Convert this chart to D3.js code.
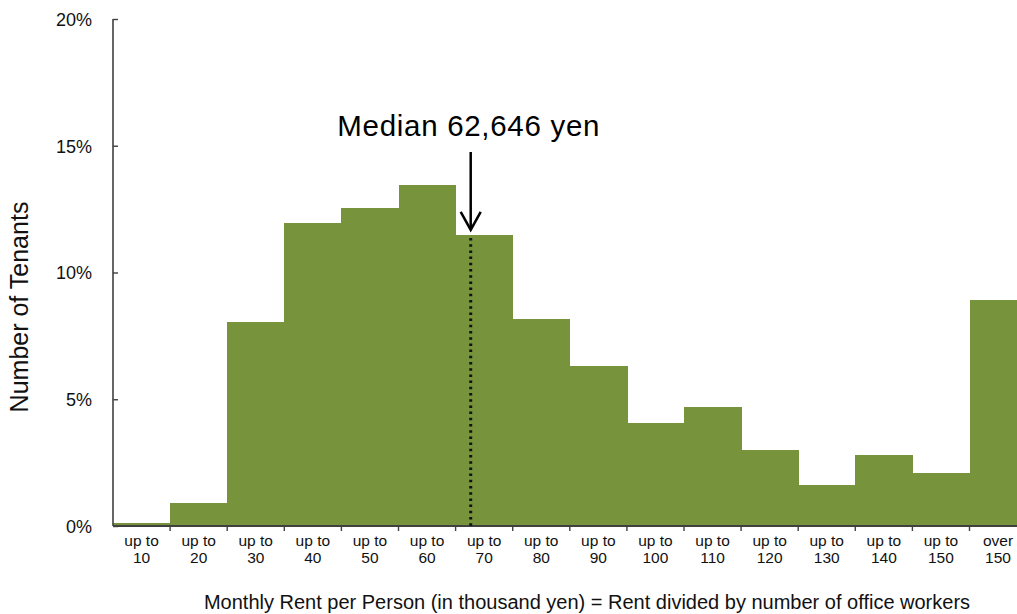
<!DOCTYPE html>
<html>
<head>
<meta charset="utf-8">
<script src="https://cdn.jsdelivr.net/npm/d3@7"></script>
<style>
  html, body { margin: 0; padding: 0; background: #fff; }
  svg { display: block; font-family: "Liberation Sans", Arial, sans-serif; }
</style>
</head>
<body>
<svg id="chart" width="1017" height="614"></svg>
<script>
// Rent bands (thousand yen per person) and share of tenants in each band (%)
const categories = ["10", "20", "30", "40", "50", "60", "70", "80", "90", "100",
                    "110", "120", "130", "140", "150", "over150"];
const shares = [0.1, 0.9, 8.05, 11.95, 12.55, 13.45, 11.48, 8.17, 6.31, 4.06,
                4.69, 3.0, 1.62, 2.8, 2.09, 8.9];
const yTicks = [0, 5, 10, 15, 20];
const medianRent = 62.646;          // thousand yen
const medianLabel = "Median 62,646 yen";

(function draw() {
  const svg = d3.select("#chart");
  const plotLeft = 113, plotTop = 19, plotBottom = 526;
  const band = 57.1;
  const plotRight = plotLeft + band * categories.length;

  const x = d3.scaleBand().domain(categories).range([plotLeft, plotRight]).padding(0);
  // continuous rent scale over the same span, used for the median marker
  const xRent = d3.scaleLinear().domain([0, 10 * categories.length]).range([plotLeft, plotRight]);
  const y = d3.scaleLinear().domain([0, 20]).range([plotBottom, plotTop]);

  // bars (adjacent, no gaps)
  svg.append("g").attr("shape-rendering", "crispEdges")
    .selectAll("rect").data(categories).join("rect")
    .attr("x", d => x(d))
    .attr("width", x.bandwidth() + 0.6)
    .attr("y", (d, i) => y(shares[i]))
    .attr("height", (d, i) => plotBottom - y(shares[i]))
    .attr("fill", "#77933c");

  // y axis with inward ticks
  const yAxis = svg.append("g").attr("transform", `translate(${plotLeft},0)`)
    .call(d3.axisRight(y).tickValues(yTicks).tickSize(5).tickFormat(d => d + "%"));
  yAxis.select(".domain").attr("stroke", "#404040").attr("stroke-width", 1.6)
    .attr("d", `M0,${plotTop}V${plotBottom}`);
  yAxis.selectAll(".tick line").attr("stroke", "#404040").attr("stroke-width", 1.4);
  yAxis.selectAll(".tick text")
    .attr("x", -21).attr("dy", "0.36em")
    .attr("text-anchor", "end")
    .attr("font-size", 18).attr("fill", "#111");

  // x axis: ticks at band boundaries
  const xAxis = svg.append("g");
  xAxis.append("line")
    .attr("x1", plotLeft).attr("x2", plotRight)
    .attr("y1", plotBottom).attr("y2", plotBottom)
    .attr("stroke", "#404040").attr("stroke-width", 2);
  xAxis.selectAll("line.tick").data(categories.slice(1)).join("line")
    .attr("class", "tick")
    .attr("x1", d => x(d)).attr("x2", d => x(d))
    .attr("y1", plotBottom).attr("y2", plotBottom + 5)
    .attr("stroke", "#404040").attr("stroke-width", 1.4);

  const labels = xAxis.selectAll("text").data(categories).join("text")
    .attr("text-anchor", "middle")
    .attr("font-size", 15.5).attr("fill", "#111");
  labels.append("tspan")
    .attr("x", d => x(d) + x.bandwidth() / 2).attr("y", 546)
    .text(d => d.startsWith("over") ? "over" : "up to");
  labels.append("tspan")
    .attr("x", d => x(d) + x.bandwidth() / 2).attr("y", 563)
    .text(d => d.replace("over", ""));

  // axis titles
  svg.append("text")
    .attr("transform", "translate(28,307) rotate(-90)")
    .attr("text-anchor", "middle")
    .attr("font-size", 25).attr("fill", "#111")
    .text("Number of Tenants");

  svg.append("text")
    .attr("x", 587).attr("y", 609)
    .attr("text-anchor", "middle")
    .attr("font-size", 20).attr("fill", "#111")
    .text("Monthly Rent per Person (in thousand yen) = Rent divided by number of office workers");

  // median marker
  const mx = xRent(medianRent);
  const medianBin = Math.floor(medianRent / 10);
  const medianTop = y(shares[medianBin]);

  svg.append("line")
    .attr("x1", mx).attr("x2", mx)
    .attr("y1", medianTop + 3).attr("y2", plotBottom)
    .attr("stroke", "#111").attr("stroke-width", 3)
    .attr("stroke-dasharray", "2.5,3.7");

  svg.append("line")
    .attr("x1", mx).attr("x2", mx)
    .attr("y1", 152).attr("y2", medianTop - 5)
    .attr("stroke", "#000").attr("stroke-width", 2.5);
  svg.append("path")
    .attr("d", `M${mx - 10},${medianTop - 23}L${mx},${medianTop - 5}L${mx + 10},${medianTop - 23}`)
    .attr("fill", "none").attr("stroke", "#000").attr("stroke-width", 2.5);

  svg.append("text")
    .attr("x", mx - 2).attr("y", 136)
    .attr("text-anchor", "middle")
    .attr("font-size", 29.5).attr("fill", "#000")
    .attr("letter-spacing", 0.7)
    .text(medianLabel);
})();
</script>
</body>
</html>
